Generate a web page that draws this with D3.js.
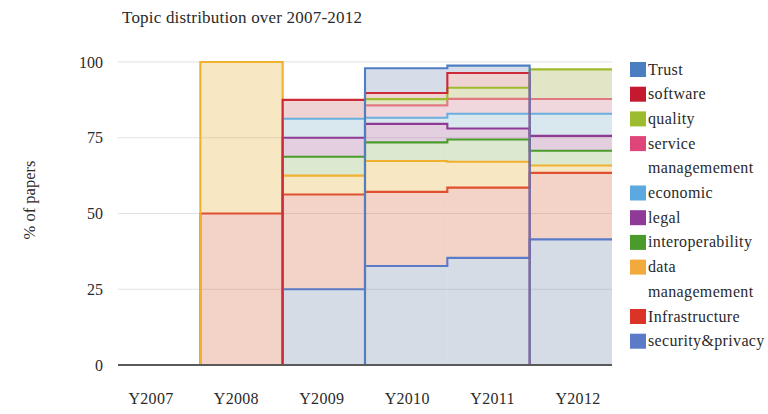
<!DOCTYPE html>
<html>
<head>
<meta charset="utf-8">
<script src="https://cdn.jsdelivr.net/npm/d3@7/dist/d3.min.js"></script>
<style>
  html, body { margin: 0; padding: 0; background: #fff; }
  svg { display: block; }
</style>
</head>
<body>
<svg id="chart" width="768" height="414" font-family="'Liberation Serif', 'Times New Roman', Times, 'DejaVu Serif', serif"></svg>
<script>
// ---- data ----
const categories = ["Y2007", "Y2008", "Y2009", "Y2010", "Y2011", "Y2012"];
const yTicks = [0, 25, 50, 75, 100];
// series in stacking order (bottom first); null = no papers / not present
const seriesNames = ["security&privacy", "Infrastructure", "data managemement", "interoperability",
                     "legal", "economic", "service managemement", "quality", "software", "Trust"];
const securityPrivacy   = [null, null, 25.00, 32.65, 35.37, 41.46];
const infrastructure    = [null, 50.00, 31.25, 24.49, 23.17, 21.95];
const dataManagement    = [null, 50.00, 6.25, 10.20, 8.54, 2.44];
const interoperability  = [null, null, 6.25, 6.12, 7.32, 4.88];
const legal             = [null, null, 6.25, 6.12, 3.66, 4.88];
const economic          = [null, null, 6.25, 2.04, 4.88, 7.32];
const serviceManagement = [null, null, null, 4.08, 4.88, 4.88];
const quality           = [null, null, null, 2.04, 3.66, 9.76];
const software          = [null, null, 6.25, 2.04, 4.88, null];
const trust             = [null, null, null, 8.16, 2.44, null];
const seriesValues = [securityPrivacy, infrastructure, dataManagement, interoperability, legal,
                      economic, serviceManagement, quality, software, trust];
const legendOrder = [9, 8, 7, 6, 5, 4, 3, 2, 1, 0];

// ---- styles ----
const seriesColors = ["#5b7bc8", "#d93427", "#f2aa3c", "#4a9a2c", "#8e3a96",
                      "#5ca8e0", "#e0457a", "#9dbb2f", "#c4192e", "#4a7ec0"];
const lineColors   = ["#5b7bc8", "#e0502e", "#f0b030", "#4a9a2c", "#8e3a96",
                      "#6aaee0", "#e27882", "#9dbb2f", "#cc2a38", "#4f7ec4"];
const fillColors   = ["#768aac", "#d76c48", "#e4af37", "#8ab25f", "#a25f98",
                      "#80b2c6", "#cd768e", "#a2ac41", "#ca6c6c", "#768ab2"];

// ---- layout ----
const svg = d3.select("#chart");
const plot = { left: 118, right: 612, top: 62, bottom: 365 };

const x = d3.scaleBand().domain(categories).range([plot.left, plot.right]).padding(0);
const xLabel = d3.scalePoint().domain(categories).range([151, 578]);
const y = d3.scaleLinear().domain([0, 100]).range([plot.bottom, plot.top]);

// stacking
const stacked = seriesValues.map(() => categories.map(() => null));
categories.forEach((c, i) => {
  let cum = 0;
  seriesValues.forEach((vals, s) => {
    const v = vals[i];
    if (v !== null) {
      stacked[s][i] = [cum, cum + v];
      cum += v;
    }
  });
});

// gridlines
svg.append("g").selectAll("line").data(yTicks.filter(t => t > 0)).join("line")
  .attr("x1", plot.left).attr("x2", plot.right)
  .attr("y1", d => y(d)).attr("y2", d => y(d))
  .attr("stroke", "#e2e2e2").attr("stroke-width", 1.2);

// fills
const fills = svg.append("g");
seriesValues.forEach((vals, s) => {
  fills.selectAll(null).data(categories.map((c, i) => ({ c, st: stacked[s][i] })).filter(d => d.st))
    .join("rect")
    .attr("x", d => x(d.c)).attr("width", x.bandwidth())
    .attr("y", d => y(d.st[1])).attr("height", d => y(d.st[0]) - y(d.st[1]))
    .attr("fill", fillColors[s]).attr("fill-opacity", 0.3);
});

// step lines
const line = d3.line().x(d => d[0]).y(d => d[1]).curve(d3.curveStepAfter);
const lines = svg.append("g");
seriesValues.forEach((vals, s) => {
  const pts = categories.map((c, i) => [x(c), y(stacked[s][i] ? stacked[s][i][1] : 0)]);
  pts.push([x(categories[categories.length - 1]) + x.bandwidth(), pts[pts.length - 1][1]]);
  lines.append("path").attr("d", line(pts))
    .attr("fill", "none").attr("stroke", lineColors[s]).attr("stroke-width", 2.1)
    .attr("stroke-linejoin", "miter");
});

// baseline
svg.append("line").attr("x1", plot.left).attr("x2", plot.right)
  .attr("y1", y(0)).attr("y2", y(0)).attr("stroke", "#5a5a5a").attr("stroke-width", 2);

const textColor = "#2a2a2a";
// y tick labels
svg.append("g").selectAll("text").data(yTicks).join("text")
  .attr("x", 103).attr("y", d => y(d) + 5.5).attr("text-anchor", "end")
  .attr("font-size", 16).attr("fill", textColor).text(d => d);

// x labels
svg.append("g").selectAll("text").data(categories).join("text")
  .attr("x", d => xLabel(d)).attr("y", 404).attr("text-anchor", "middle")
  .attr("font-size", 16).attr("letter-spacing", 0.3).attr("fill", textColor).text(d => d);

// title
svg.append("text").attr("x", 122).attr("y", 23).attr("font-size", 17).attr("letter-spacing", 0.2)
  .attr("fill", textColor).text("Topic distribution over 2007-2012");

// y axis title
svg.append("text").attr("transform", "translate(35,200) rotate(-90)")
  .attr("text-anchor", "middle").attr("font-size", 16.5).attr("fill", textColor).text("% of papers");

// legend
const legend = svg.append("g");
let row = 0;
const rowH = 24.7, legTop = 69.5;
legendOrder.forEach(s => {
  const cy = legTop + row * rowH;
  legend.append("rect").attr("x", 630).attr("y", cy - 7.5).attr("width", 16).attr("height", 15)
    .attr("fill", seriesColors[s]);
  const parts = seriesNames[s].includes(" ") ? seriesNames[s].split(" ") : [seriesNames[s]];
  parts.forEach((p, k) => {
    legend.append("text").attr("x", 648).attr("y", legTop + (row + k) * rowH + 5)
      .attr("font-size", 16).attr("letter-spacing", 0.35).attr("fill", textColor).text(p);
  });
  row += parts.length;
});
</script>
</body>
</html>
